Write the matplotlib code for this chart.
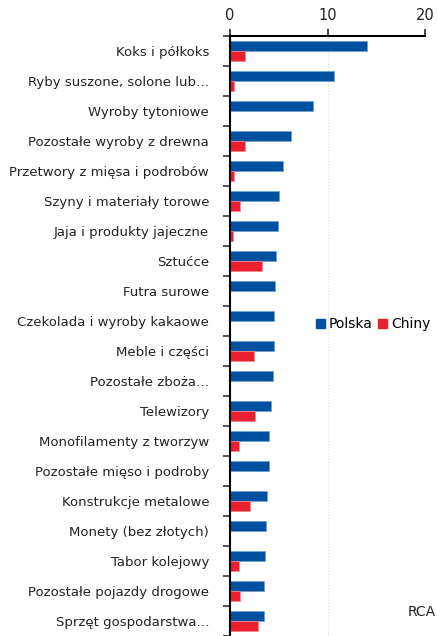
import matplotlib.pyplot as plt
import numpy as np
from matplotlib.patches import Patch

categories = ["Koks i półkoks", "Ryby suszone, solone lub…", "Wyroby tytoniowe",
              "Pozostałe wyroby z drewna", "Przetwory z mięsa i podrobów",
              "Szyny i materiały torowe", "Jaja i produkty jajeczne", "Sztućce",
              "Futra surowe", "Czekolada i wyroby kakaowe", "Meble i części",
              "Pozostałe zboża…", "Telewizory", "Monofilamenty z tworzyw",
              "Pozostałe mięso i podroby", "Konstrukcje metalowe",
              "Monety (bez złotych)", "Tabor kolejowy", "Pozostałe pojazdy drogowe",
              "Sprzęt gospodarstwa…"]
polska = [14.0, 10.6, 8.45, 6.2, 5.4, 5.0, 4.95, 4.7, 4.65, 4.55,
          4.5, 4.4, 4.2, 4.0, 3.95, 3.75, 3.7, 3.6, 3.5, 3.5]
chiny = [1.5, 0.4, 0.0, 1.55, 0.45, 1.0, 0.3, 3.3, 0.0, 0.05,
         2.45, 0.0, 2.55, 0.95, 0.05, 2.0, 0.0, 0.9, 1.0, 2.9]
xticks = [0, 10, 20]

blue = "#0050A0"
red = "#E8202F"

fig = plt.figure(figsize=(4.37, 6.36), dpi=100)
ax = fig.add_axes([230 / 437, 0.0, 195.3 / 437, 1 - 36 / 636])

y = np.arange(len(categories))
h = 1 / 3
ax.barh(y - h / 2, polska, height=h, color=blue, edgecolor="#6f9fd0", linewidth=0.6, label="Polska")
ax.barh(y + h / 2, chiny, height=h, color=red, edgecolor="#f08890", linewidth=0.6, label="Chiny")

ax.set_xlim(0, 20)
ax.set_ylim(len(categories) - 0.5, -0.5)

ax.xaxis.tick_top()
ax.set_xticks(xticks)
ax.tick_params(axis="x", which="major", length=5, width=1.2, labelsize=10.5, pad=4, colors="#222222")
ax.set_yticks(y)
ax.set_yticklabels(categories, fontsize=9.5, color="#222222")
ax.tick_params(axis="y", which="major", length=0, pad=15)
ax.set_yticks(np.arange(len(categories) + 1) - 0.5, minor=True)
ax.tick_params(axis="y", which="minor", length=5, width=1.2, color="#333333")

for s in ["right", "bottom"]:
    ax.spines[s].set_visible(False)
ax.spines["left"].set_linewidth(1.5)
ax.spines["top"].set_linewidth(1.5)
ax.xaxis.grid(True, color="#dddddd", linestyle=":", linewidth=0.8)
ax.set_axisbelow(True)

handles = [Patch(color=blue), Patch(color=red)]
fig.legend(handles, ["Polska", "Chiny"], loc="center left",
           bbox_to_anchor=(308 / 437, 1 - 324 / 636), ncol=2, frameon=False,
           handlelength=0.6, handleheight=0.6, handletextpad=0.3,
           columnspacing=0.4, fontsize=10, borderaxespad=0.2)

fig.text(0.998, 1 - 612 / 636, "RCA", ha="right", va="center", fontsize=10, color="#222222")

fig.savefig("out.png", dpi=100)
